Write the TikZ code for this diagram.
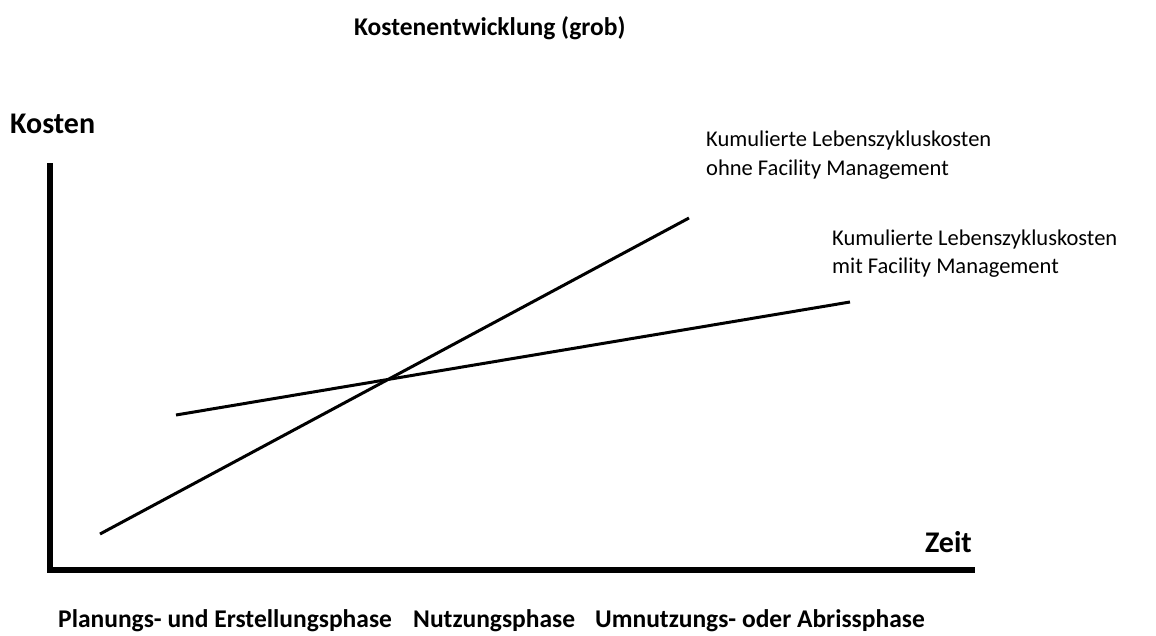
\documentclass[tikz,border=0pt]{standalone}
\usepackage{fontspec}
\setmainfont{Carlito}
\tikzset{
  axis/.style={line width=5.5pt},
  costline/.style={line width=3pt},
  lbl/.style={inner sep=0pt, anchor=base west, font=\fontsize{22.5}{27}\selectfont},
  blbl/.style={inner sep=0pt, anchor=base west, font=\bfseries\fontsize{25.5}{30}\selectfont},
  axlbl/.style={inner sep=0pt, font=\bfseries\fontsize{30}{35}\selectfont}
}
\begin{document}
\begin{tikzpicture}[x=1pt,y=-1pt]
  \useasboundingbox (0,0) rectangle (1156,635);
  % axes
  \coordinate (top) at (50,163);
  \coordinate (origin) at (50,570);
  \coordinate (right) at (975,570);
  \draw [axis] (top) -- (origin) -- (right);
  \node [axlbl,anchor=base west] (kosten) at (10,133) {Kosten};
  \node [axlbl,anchor=base east] (zeit) at (972,552) {Zeit};
  \node [blbl] (title) at (354,35) {Kostenentwicklung (grob)};
  % cost lines
  \coordinate (ohneA) at (100,534);
  \coordinate (ohneB) at (689,218);
  \coordinate (mitA) at (176,415);
  \coordinate (mitB) at (850,302);
  \draw [costline] (ohneA) -- (ohneB);
  \draw [costline] (mitA) -- (mitB);
  \node [lbl] (ohne1) at (706,146) {Kumulierte Lebenszykluskosten};
  \node [lbl] (ohne2) at (706,175) {ohne Facility Management};
  \node [lbl] (mit1) at (832,245) {Kumulierte Lebenszykluskosten};
  \node [lbl] (mit2) at (832,273) {mit Facility Management};
  % phases
  \node [blbl] (plan) at (58,627) {Planungs- und Erstellungsphase};
  \node [blbl] (nutz) at (413,627) {Nutzungsphase};
  \node [blbl] (umn) at (595,627) {Umnutzungs- oder Abrissphase};
\end{tikzpicture}
\end{document}
